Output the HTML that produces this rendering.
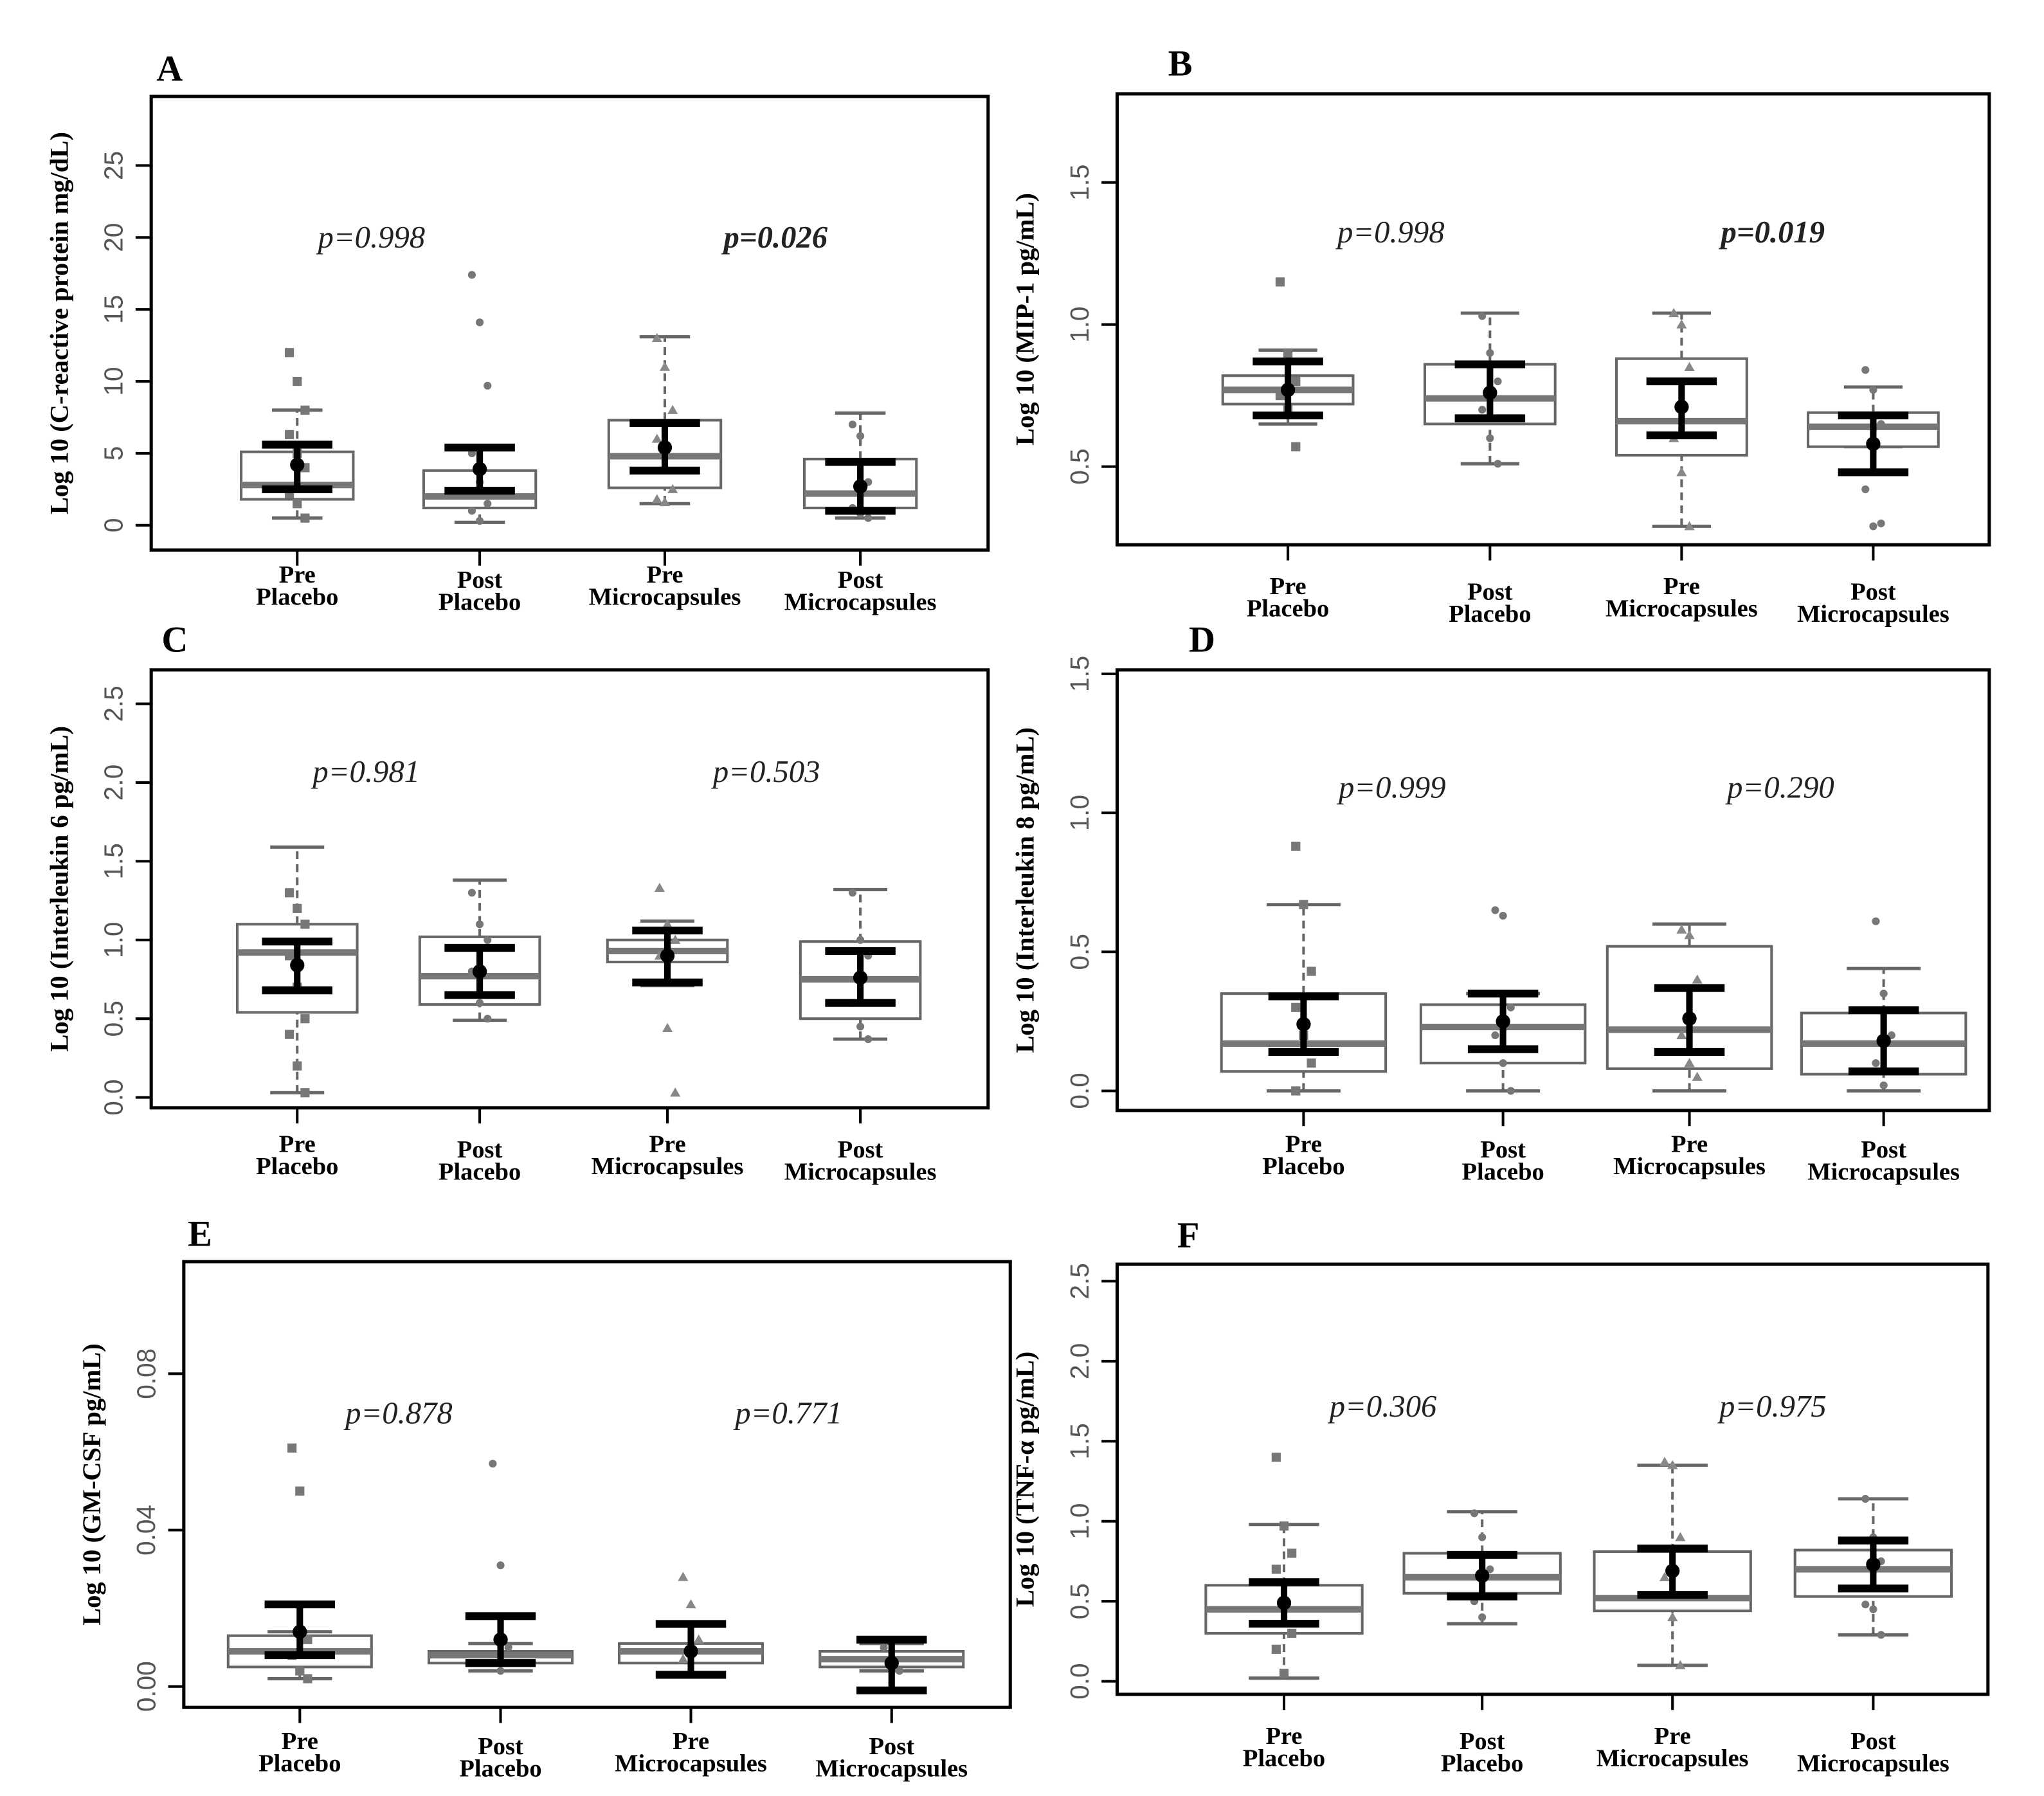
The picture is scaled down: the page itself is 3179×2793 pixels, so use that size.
<!DOCTYPE html>
<html><head><meta charset="utf-8"><style>
html,body{margin:0;padding:0;background:#fff;}
svg{display:block;}
</style></head><body>
<svg id="fig" xmlns="http://www.w3.org/2000/svg" width="3179" height="2793" viewBox="0 0 1568 1378" preserveAspectRatio="none">
<rect width="1568" height="1378" fill="#fff"/>
</svg>
<script>
const categories = [["Pre","Placebo"],["Post","Placebo"],["Pre","Microcapsules"],["Post","Microcapsules"]];
// per panel: [whiskerLow, q1, median, q3, whiskerHigh]
const boxA = [[0.5,1.8,2.8,5.1,8],[0.2,1.2,2.0,3.8,5.4],[1.5,2.6,4.8,7.3,13.1],[0.5,1.2,2.2,4.6,7.8]];
const meanA = [[4.2,2.5,5.6],[3.9,2.4,5.4],[5.4,3.8,7.1],[2.7,1.0,4.4]];
const ptsA = [[12,10,8,6.3,5,4,2.2,1.5,0.5],[17.4,14.1,9.7,5,3,1.5,1,0.3],[13,11,8,6,5,2.5,1.8,1.6],[7,6.2,3,1.2,0.8,0.5]];
const boxB = [[0.65,0.72,0.77,0.82,0.91],[0.51,0.65,0.74,0.86,1.04],[0.29,0.54,0.66,0.88,1.04],[0.57,0.57,0.64,0.69,0.78]];
const meanB = [[0.77,0.68,0.87],[0.76,0.67,0.86],[0.71,0.61,0.80],[0.58,0.48,0.68]];
const ptsB = [[1.15,0.9,0.8,0.75,0.7,0.57],[1.03,0.9,0.8,0.7,0.6,0.51],[1.04,1.0,0.85,0.6,0.48,0.29],[0.84,0.77,0.65,0.42,0.29,0.3]];
const boxC = [[0.03,0.54,0.92,1.1,1.59],[0.49,0.59,0.77,1.02,1.38],[0.71,0.86,0.93,1.0,1.12],[0.37,0.5,0.75,0.99,1.32]];
const meanC = [[0.84,0.68,0.99],[0.80,0.65,0.95],[0.90,0.73,1.06],[0.76,0.60,0.93]];
const ptsC = [[1.3,1.2,1.1,0.9,0.7,0.5,0.4,0.2,0.03],[1.3,1.1,1.0,0.8,0.6,0.5],[1.33,1.1,1.0,0.9,0.44,0.03],[1.3,1.0,0.9,0.6,0.45,0.37]];
const boxD = [[0,0.07,0.17,0.35,0.67],[0,0.1,0.23,0.31,0.35],[0,0.08,0.22,0.52,0.6],[0,0.06,0.17,0.28,0.44]];
const meanD = [[0.24,0.14,0.34],[0.25,0.15,0.35],[0.26,0.14,0.37],[0.18,0.07,0.29]];
const ptsD = [[0.88,0.67,0.43,0.3,0.2,0.1,0],[0.65,0.63,0.3,0.2,0.1,0],[0.58,0.56,0.4,0.2,0.1,0.05],[0.61,0.35,0.2,0.1,0.02]];
const boxE = [[0.002,0.005,0.009,0.013,0.014],[0.004,0.006,0.008,0.009,0.011],[0.003,0.006,0.009,0.011,0.016],[0.004,0.005,0.007,0.009,0.011]];
const meanE = [[0.014,0.008,0.021],[0.012,0.006,0.018],[0.009,0.003,0.016],[0.006,-0.001,0.012]];
const ptsE = [[0.061,0.05,0.012,0.008,0.004,0.002],[0.057,0.031,0.01,0.006,0.004],[0.028,0.021,0.012,0.007,0.004],[0.01,0.007,0.004]];
const boxF = [[0.02,0.3,0.45,0.6,0.98],[0.36,0.55,0.65,0.8,1.06],[0.1,0.44,0.52,0.81,1.35],[0.29,0.53,0.7,0.82,1.14]];
const meanF = [[0.49,0.36,0.62],[0.66,0.53,0.79],[0.69,0.54,0.83],[0.73,0.58,0.88]];
const ptsF = [[1.4,0.97,0.8,0.7,0.5,0.3,0.2,0.05],[1.05,0.9,0.7,0.5,0.4],[1.37,1.35,0.9,0.65,0.4,0.1],[1.14,0.9,0.75,0.48,0.45,0.29]];
const ticksA = [0,5,10,15,20,25], ticksB=[0.5,1.0,1.5], ticksC=[0,0.5,1,1.5,2,2.5], ticksD=[0,0.5,1,1.5], ticksE=[0,0.04,0.08], ticksF=[0,0.5,1,1.5,2,2.5];
const pvals = [["p=0.998","p=0.026"],["p=0.998","p=0.019"],["p=0.981","p=0.503"],["p=0.999","p=0.290"],["p=0.878","p=0.771"],["p=0.306","p=0.975"]];

const panels = [
 {id:"A",box:boxA,mean:meanA,pts:ptsA,ticks:ticksA,dec:0,L:116,R:758,T:74,B:422,v0:0,y0:403,v1:25,y1:127,cx:[228,368,510,660],hw:43,lx:120,ly:62,title:"Log 10 (C-reactive protein mg/dL)",px:[285,595],py:190,bold:1,xly:447},
 {id:"B",box:boxB,mean:meanB,pts:ptsB,ticks:ticksB,dec:1,L:857,R:1526,T:72,B:418,v0:0.5,y0:358,v1:1.5,y1:140,cx:[988,1143,1290,1437],hw:50,lx:896,ly:58,title:"Log 10 (MIP-1 pg/mL)",px:[1067,1360],py:186,bold:1,xly:456},
 {id:"C",box:boxC,mean:meanC,pts:ptsC,ticks:ticksC,dec:1,L:116,R:758,T:514,B:850,v0:0,y0:842,v1:2.5,y1:540,cx:[228,368,512,660],hw:46,lx:124,ly:500,title:"Log 10 (Interleukin 6 pg/mL)",px:[281,588],py:600,bold:0,xly:884},
 {id:"D",box:boxD,mean:meanD,pts:ptsD,ticks:ticksD,dec:1,L:857,R:1526,T:514,B:852,v0:0,y0:837,v1:1.5,y1:517,cx:[1000,1153,1296,1445],hw:63,lx:912,ly:500,title:"Log 10 (Interleukin 8 pg/mL)",px:[1068,1366],py:612,bold:0,xly:884},
 {id:"E",box:boxE,mean:meanE,pts:ptsE,ticks:ticksE,dec:2,L:141,R:775,T:968,B:1310,v0:0,y0:1294,v1:0.08,y1:1054,cx:[230,384,530,684],hw:55,lx:144,ly:956,title:"Log 10 (GM-CSF pg/mL)",px:[306,605],py:1092,bold:0,xly:1342},
 {id:"F",box:boxF,mean:meanF,pts:ptsF,ticks:ticksF,dec:1,L:857,R:1525,T:970,B:1300,v0:0,y0:1290,v1:2.5,y1:983,cx:[985,1137,1283,1437],hw:60,lx:903,ly:957,title:"Log 10 (TNF-\u03b1 pg/mL)",px:[1061,1360],py:1087,bold:0,xly:1338}
];
const NS="http://www.w3.org/2000/svg";
const svg=document.getElementById("fig");
function mk(tag,attrs,parent,txt){const e=document.createElementNS(NS,tag);for(const k in attrs)e.setAttribute(k,attrs[k]);if(txt!==undefined)e.textContent=txt;(parent||svg).appendChild(e);return e;}
panels.forEach((p,pi)=>{
 const g=mk("g",{});
 
 
 const y=v=>p.y0+(v-p.v0)*(p.y1-p.y0)/(p.v1-p.v0);
 const lab=mk("text",{x:p.lx,y:p.ly,"font-family":"Liberation Serif, serif","font-weight":"bold","font-size":28},g,p.id);
 
 
 const fr=mk("rect",{x:p.L,y:p.T,width:p.R-p.L,height:p.B-p.T,fill:"none",stroke:"#000","stroke-width":2.5},g);
 
 
 p.ticks.forEach(t=>{
  const yy=y(t);
  mk("line",{x1:p.L-12,x2:p.L,y1:yy,y2:yy,stroke:"#000","stroke-width":2},g);
  const tx=mk("text",{x:p.L-22,y:yy,transform:`rotate(-90 ${p.L-22} ${yy})`,"text-anchor":"middle","font-family":"Liberation Sans, sans-serif","font-size":20,fill:"#555"},g,t.toFixed(p.dec));
  
  
 });
 const tcx=p.L-64, tcy=(p.T+p.B)/2;
 const yt=mk("text",{x:tcx,y:tcy,transform:`rotate(-90 ${tcx} ${tcy})`,"text-anchor":"middle","font-family":"Liberation Serif, serif","font-weight":"bold","font-size":20},g,p.title);
 
 
 pvals[pi].forEach((s,i)=>{
  const pt=mk("text",{x:p.px[i],y:p.py,"text-anchor":"middle","font-family":"Liberation Serif, serif","font-style":"italic","font-size":24,"font-weight":(i==1&&p.bold)?"bold":"normal",fill:"#222"},g,s);
  
  
 });
 p.cx.forEach((cx,i)=>{
  const b=p.box[i],m=p.mean[i];
  mk("line",{x1:cx,x2:cx,y1:p.B,y2:p.B+12,stroke:"#000","stroke-width":2},g);
  const xl=mk("text",{x:cx,y:p.xly+(i%2?4:0),"text-anchor":"middle","font-family":"Liberation Serif, serif","font-weight":"bold","font-size":19},g);
  
  
  mk("tspan",{x:cx,dy:0},xl,categories[i][0]);mk("tspan",{x:cx,dy:17},xl,categories[i][1]);
  const bg=mk("g",{},g);
  
  
  const cw=p.hw*0.45;
  mk("line",{x1:cx,x2:cx,y1:y(b[0]),y2:y(b[1]),stroke:"#666","stroke-width":2,"stroke-dasharray":"6,4"},bg);
  mk("line",{x1:cx,x2:cx,y1:y(b[3]),y2:y(b[4]),stroke:"#666","stroke-width":2,"stroke-dasharray":"6,4"},bg);
  mk("line",{x1:cx-cw,x2:cx+cw,y1:y(b[0]),y2:y(b[0]),stroke:"#666","stroke-width":2.5},bg);
  mk("line",{x1:cx-cw,x2:cx+cw,y1:y(b[4]),y2:y(b[4]),stroke:"#666","stroke-width":2.5},bg);
  mk("rect",{x:cx-p.hw,y:y(b[3]),width:2*p.hw,height:Math.max(1,y(b[1])-y(b[3])),fill:"#fff",stroke:"#666","stroke-width":2},bg);
  mk("line",{x1:cx-p.hw,x2:cx+p.hw,y1:y(b[2]),y2:y(b[2]),stroke:"#777","stroke-width":5},bg);
  p.pts[i].forEach((v,k)=>{
   const px=cx+((k%3)-1)*6,py=y(v);
   if(i==0) mk("rect",{x:px-3.5,y:py-3.5,width:7,height:7,fill:"#777"},bg);
   else if(i==2) mk("polygon",{points:`${px},${py-4} ${px-4},${py+3} ${px+4},${py+3}`,fill:"#888"},bg);
   else mk("circle",{cx:px,cy:py,r:3,fill:"#777"},bg);
  });
  const ec=27;
  mk("line",{x1:cx,x2:cx,y1:y(m[1]),y2:y(m[2]),stroke:"#000","stroke-width":5},bg);
  mk("line",{x1:cx-ec,x2:cx+ec,y1:y(m[1]),y2:y(m[1]),stroke:"#000","stroke-width":6},bg);
  mk("line",{x1:cx-ec,x2:cx+ec,y1:y(m[2]),y2:y(m[2]),stroke:"#000","stroke-width":6},bg);
  mk("circle",{cx:cx,cy:y(m[0]),r:5.5,fill:"#000"},bg);
 });
});
</script>
</body></html>
